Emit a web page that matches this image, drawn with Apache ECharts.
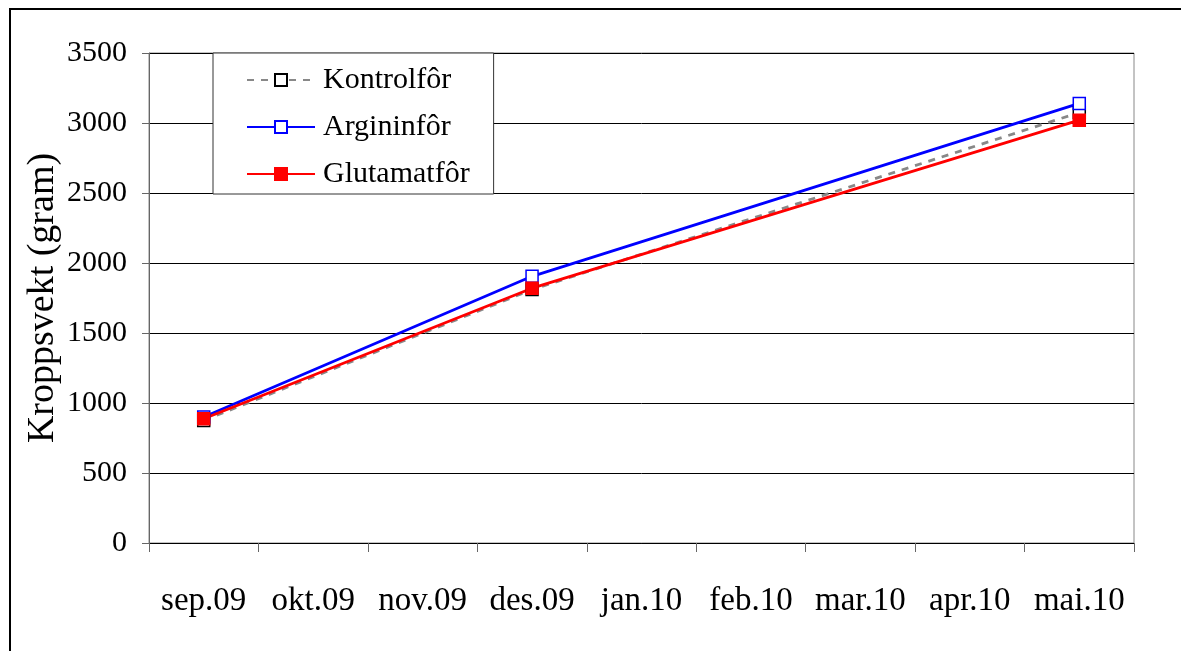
<!DOCTYPE html>
<html>
<head>
<meta charset="utf-8">
<script src="https://cdn.jsdelivr.net/npm/echarts@6/dist/echarts.min.js"></script>
<style>
  html, body { margin: 0; padding: 0; background: #fff; }
  #chart { width: 1181px; height: 651px; }
</style>
</head>
<body>
<div id="chart"></div>
<script>
// months on the x axis
var months = ['sep.09', 'okt.09', 'nov.09', 'des.09', 'jan.10', 'feb.10', 'mar.10', 'apr.10', 'mai.10']
var seriesNames = ['Kontrolfôr', 'Argininfôr', 'Glutamatfôr']
// body weight in gram, only measured in sep, des and mai
var kontrol = [875, null, null, 1810, null, null, null, null, 3075]
var arginin = [900, null, null, 1905, null, null, null, null, 3140]
var glutamat = [888, null, null, 1820, null, null, null, null, 3020]

var font = 'Liberation Serif'
var myChart = echarts.init(document.getElementById('chart'))

function lineSeries (name, data, color, dash, fill, border) {
  return {
    name: name,
    type: 'line',
    data: data,
    connectNulls: true,
    symbol: 'rect',
    symbolSize: 12,
    lineStyle: { width: 2.8, color: color, type: dash },
    itemStyle: { color: fill, borderColor: border, borderWidth: 1.5 }
  }
}

var option = {
  backgroundColor: '#fff',
  animation: false,
  textStyle: { fontFamily: font, color: '#000' },
  graphic: [{
    type: 'rect',
    shape: { x: 10, y: 9, width: 1300, height: 800 },
    style: { fill: 'none', stroke: '#000', lineWidth: 2 },
    z: -10
  }],
  grid: {
    left: 149,
    right: 47,
    top: 53,
    bottom: 108,
    show: true,
    borderColor: '#888',
    borderWidth: 1,
    backgroundColor: 'transparent'
  },
  legend: {
    orient: 'vertical',
    left: 213,
    top: 53,
    itemWidth: 68,
    itemHeight: 15,
    itemGap: 17,
    padding: [12, 24, 5, 33],
    backgroundColor: '#fff',
    borderColor: '#333',
    borderWidth: 1,
    textStyle: { fontFamily: font, fontSize: 30, color: '#000', lineHeight: 30, padding: [0, 0, 0, 3] },
    data: seriesNames
  },
  xAxis: {
    type: 'category',
    data: months,
    boundaryGap: true,
    axisLine: { lineStyle: { color: '#000', width: 1 } },
    axisTick: { show: true, length: 9, lineStyle: { color: '#666' } },
    axisLabel: { fontFamily: font, fontSize: 33, color: '#000', margin: 42, interval: 0 },
    splitLine: { show: false }
  },
  yAxis: {
    type: 'value',
    min: 0,
    max: 3500,
    interval: 500,
    name: 'Kroppsvekt (gram)',
    nameLocation: 'middle',
    nameGap: 87,
    nameMoveOverlap: false,
    nameTextStyle: { fontFamily: font, fontSize: 38, color: '#000' },
    axisLine: { show: true, lineStyle: { color: '#666' } },
    axisTick: { show: true, length: 7, lineStyle: { color: '#666' } },
    axisLabel: {
      fontFamily: font,
      fontSize: 30,
      color: '#000',
      margin: 22,
      formatter: function (v) { return String(v) }
    },
    splitLine: { show: true, lineStyle: { color: '#000', width: 1 } }
  },
  series: [
    lineSeries(seriesNames[0], kontrol, '#888', [7, 7], '#fff', '#000'),
    lineSeries(seriesNames[1], arginin, '#0000ff', 'solid', '#fff', '#0000ff'),
    lineSeries(seriesNames[2], glutamat, '#ff0000', 'solid', '#ff0000', '#ff0000')
  ]
}
myChart.setOption(option)
</script>
</body>
</html>
